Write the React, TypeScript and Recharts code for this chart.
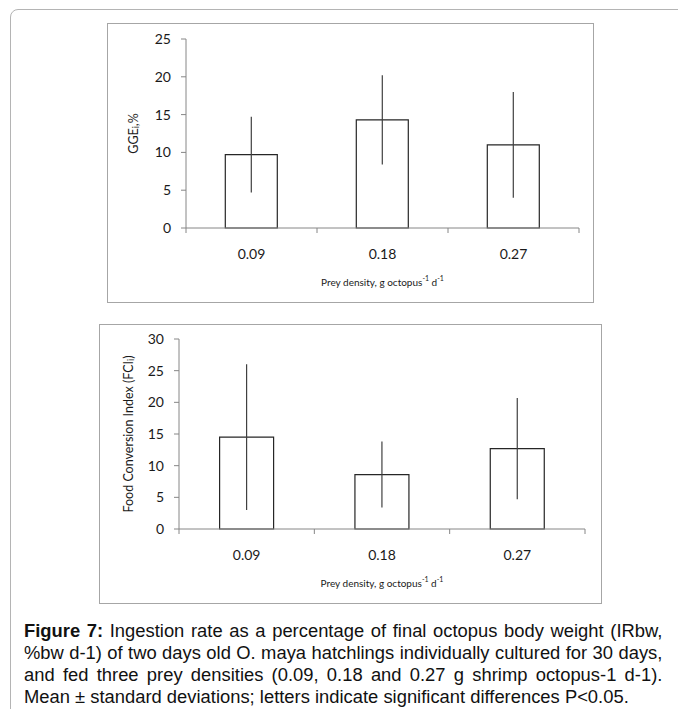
import React from 'react';
import { BarChart, Bar, XAxis, YAxis, ErrorBar, Label } from 'recharts';

// values
const categories = ['0.09', '0.18', '0.27'];
const ggeMean = [9.7, 14.3, 11.0];
const ggeSd = [5.0, 5.9, 7.0];
const fciMean = [14.5, 8.6, 12.7];
const fciSd = [11.5, 5.2, 8.0];
const ggeTicks = [0, 5, 10, 15, 20, 25];
const fciTicks = [0, 5, 10, 15, 20, 25, 30];

const ggeData = categories.map((name, i) => ({ name, mean: ggeMean[i], sd: ggeSd[i] }));
const fciData = categories.map((name, i) => ({ name, mean: fciMean[i], sd: fciSd[i] }));

const FONT = 'Lato, "Open Sans", sans-serif';
const AXIS = '#868686';
const TEXT = '#1a1a1a';

// Excel-style ticks: marks between categories, label in the middle
const CategoryTick = (props: any) => {
    const { x, y, payload, index, visibleTicksCount } = props;
    const half = payload && payload.offset ? payload.offset : 0;
    return (
        <g>
            <line x1={x - half} x2={x - half} y1={y} y2={y + 5} stroke={AXIS} />
            {index === visibleTicksCount - 1 && (
                <line x1={x + half} x2={x + half} y1={y} y2={y + 5} stroke={AXIS} />
            )}
            <text x={x} y={y + 25} textAnchor="middle" dominantBaseline="central"
                fontFamily={FONT} fontSize={14} fill={TEXT}>
                {payload.value}
            </text>
        </g>
    );
};

const xTitle = (props: any) => {
    const { viewBox } = props;
    const cx = viewBox.x + viewBox.width / 2;
    return (
        <text x={cx} y={viewBox.y + 54} textAnchor="middle" dominantBaseline="central"
            fontFamily={FONT} fontSize={10} fill={TEXT}>
            Prey density, g octopus<tspan fontSize={7} dy={-4}>-1</tspan>
            <tspan dy={4}> d</tspan><tspan fontSize={7} dy={-4}>-1</tspan>
        </text>
    );
};

const yTitle = (main: string, sub: string, tail: string, dx: number) => (props: any) => {
    const { viewBox } = props;
    const cx = viewBox.x + dx;
    const cy = viewBox.y + viewBox.height / 2;
    return (
        <text x={cx} y={cy} transform={`rotate(-90 ${cx} ${cy})`} textAnchor="middle"
            dominantBaseline="central" fontFamily={FONT} fontSize={12.5} fill={TEXT}>
            {main}<tspan fontSize={8.5} dy={3}>{sub}</tspan><tspan dy={-3}>{tail}</tspan>
        </text>
    );
};

type PanelProps = {
    data: { name: string; mean: number; sd: number }[];
    ticks: number[];
    left: number;
    top: number;
    width: number;
    height: number;
    margin: { top: number; right: number; left: number; bottom: number };
    yWidth: number;
    title: (p: any) => React.ReactElement;
};

const Panel = ({ data, ticks, left, top, width, height, margin, yWidth, title }: PanelProps) => (
    <>
        <div style={{
            position: 'absolute', left, top, width, height, boxSizing: 'border-box',
            border: '1.5px solid #a6a6a6',
        }} />
        <div style={{ position: 'absolute', left, top }}>
            <BarChart width={width} height={height} data={data} margin={margin} barCategoryGap="30%">
                <XAxis dataKey="name" stroke={AXIS} tickLine={false} tickSize={0} tickMargin={0}
                    tick={<CategoryTick />} height={75} interval={0}>
                    <Label content={xTitle} />
                </XAxis>
                <YAxis domain={[ticks[0], ticks[ticks.length - 1]]} ticks={ticks} width={yWidth}
                    stroke={AXIS} tickSize={5} tickMargin={10}
                    tick={{ fill: TEXT, fontFamily: FONT, fontSize: 14 }}>
                    <Label content={title} />
                </YAxis>
                <Bar dataKey="mean" fill="#fff" stroke="#262626" strokeWidth={1.2} isAnimationActive={false}>
                    <ErrorBar dataKey="sd" width={0} stroke="#404040" strokeWidth={1.2} />
                </Bar>
            </BarChart>
        </div>
    </>
);

const captionLine = { textAlign: 'justify' as const, textAlignLast: 'justify' as const };

export default function App() {
    return (
        <div style={{ position: 'absolute', left: 0, top: 0, width: 678, height: 709, overflow: 'hidden', background: '#fff' }}>
            <div style={{
                position: 'absolute', left: 10, top: 9, width: 720, height: 740,
                border: '1px solid #b4b4b4', borderRadius: 8,
            }} />
            <Panel data={ggeData} ticks={ggeTicks} left={107} top={23} width={487} height={280}
                margin={{ top: 16, right: 15, left: 0, bottom: 0 }} yWidth={79}
                title={yTitle('GGE', 'i', ',%', 26)} />
            <Panel data={fciData} ticks={fciTicks} left={99} top={324} width={503} height={280}
                margin={{ top: 15, right: 17, left: 0, bottom: 0 }} yWidth={80}
                title={yTitle('Food Conversion Index (FCI', 'i', ')', 29)} />
            <div style={{
                position: 'absolute', left: 24, top: 620, width: 608,
                transform: 'scaleX(1.05)', transformOrigin: '0 0',
                fontFamily: '"Liberation Sans", Arial, sans-serif',
                fontSize: 17.5, lineHeight: '22px', color: '#111', whiteSpace: 'nowrap',
            }}>
                <div style={captionLine}><b>Figure 7:</b> Ingestion rate as a percentage of final octopus body weight (IRbw,</div>
                <div style={captionLine}>%bw d-1) of two days old O. maya hatchlings individually cultured for 30 days,</div>
                <div style={captionLine}>and fed three prey densities (0.09, 0.18 and 0.27 g shrimp octopus-1 d-1).</div>
                <div>Mean ± standard deviations; letters indicate significant differences P&lt;0.05.</div>
            </div>
        </div>
    );
}
